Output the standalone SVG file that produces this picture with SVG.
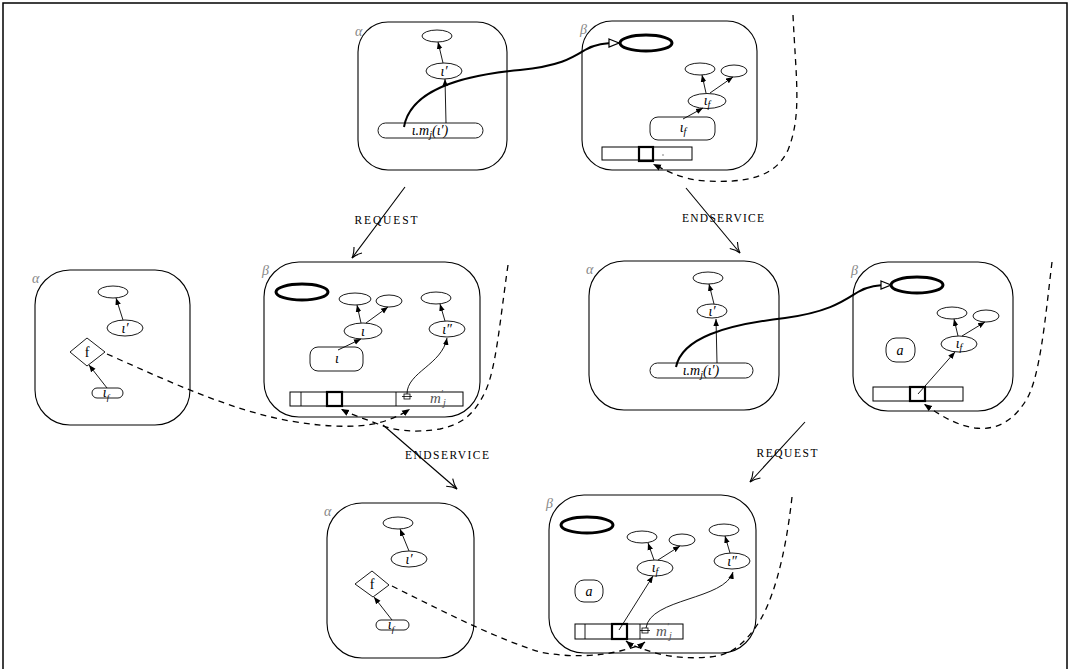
<svg xmlns="http://www.w3.org/2000/svg" width="1070" height="669" viewBox="0 0 1070 669">
<defs>
<style>
.frame{fill:none;stroke:#000;stroke-width:1.5}
.box{fill:none;stroke:#000;stroke-width:1.1}
.el{fill:#fff;stroke:#000;stroke-width:0.9}
.thk{fill:none;stroke:#000;stroke-width:3}
.ar{fill:none;stroke:#000;stroke-width:0.9;marker-end:url(#fa)}
.dash{fill:none;stroke:#000;stroke-width:1.3;stroke-dasharray:6,5;marker-end:url(#fa2)}
.tr{fill:none;stroke:#000;stroke-width:1.1;marker-end:url(#open)}
.hv{fill:none;stroke:#000;stroke-width:2;marker-end:url(#hollow)}
.lab{font-family:"Liberation Serif",serif;font-style:italic;font-size:14px;fill:#888}
.m{font-family:"Liberation Serif",serif;font-style:italic;font-size:14px;fill:#000}
.mg{font-family:"Liberation Serif",serif;font-style:italic;font-size:15px;fill:#555}
.f{font-family:"Liberation Serif",serif;font-size:14px;fill:#000}
.cap{font-family:"Liberation Serif",serif;font-size:11.5px;fill:#000}
.bar{fill:#fff;stroke:#000;stroke-width:1}
.sq{fill:none;stroke:#000;stroke-width:2.2}
</style>
<marker id="fa" viewBox="0 0 10 10" refX="10" refY="5" markerWidth="7" markerHeight="7" markerUnits="userSpaceOnUse" orient="auto"><path d="M0,1 L10,5 L0,9 z" fill="#000"/></marker>
<marker id="fa2" viewBox="0 0 10 10" refX="10" refY="5" markerWidth="8" markerHeight="8" markerUnits="userSpaceOnUse" orient="auto"><path d="M0,1 L10,5 L0,9 z" fill="#000"/></marker>
<marker id="open" viewBox="0 0 12 12" refX="11" refY="6" markerWidth="12" markerHeight="12" markerUnits="userSpaceOnUse" orient="auto"><path d="M1,1 Q6,5 11,6 Q6,7 1,11" fill="none" stroke="#000" stroke-width="1.1"/></marker>
<marker id="hollow" viewBox="0 0 12 10" refX="11" refY="5" markerWidth="12" markerHeight="10" markerUnits="userSpaceOnUse" orient="auto"><path d="M1,1 L11,5 L1,9 z" fill="#fff" stroke="#000" stroke-width="1.2"/></marker>
</defs>
<rect x="0" y="0" width="1070" height="669" fill="#fff"/>
<rect class="frame" x="3" y="3" width="1064" height="700"/>

<g id="alpha1">
<rect class="box" x="358" y="22" width="149" height="148" rx="30"/>
<text class="lab" x="355" y="36">α</text>
<ellipse class="el" cx="437" cy="36" rx="15" ry="6"/>
<ellipse class="el" cx="444" cy="71" rx="18" ry="8"/>
<text class="m" x="444" y="76" text-anchor="middle">ι′</text>
<rect class="el" x="378" y="123" width="105" height="15" rx="7.5"/>
<text class="m" x="430" y="135" text-anchor="middle">ι.m<tspan font-size="10" dy="3">j</tspan><tspan dy="-3">(ι′)</tspan></text>
</g>

<g id="beta1">
<rect class="box" x="582" y="21" width="175" height="149" rx="30"/>
<text class="lab" x="580" y="34">β</text>
<ellipse class="thk" cx="646" cy="43" rx="26" ry="8"/>
<ellipse class="el" cx="700" cy="69" rx="15" ry="6"/>
<ellipse class="el" cx="734" cy="71" rx="13" ry="6"/>
<ellipse class="el" cx="707" cy="101" rx="19" ry="7.5"/>
<text class="m" x="707" y="105" text-anchor="middle">ι<tspan font-size="10" dy="3">f</tspan></text>
<rect class="el" x="650" y="117" width="65" height="23" rx="8"/>
<text class="m" x="683" y="132" text-anchor="middle">ι<tspan font-size="10" dy="3">f</tspan></text>
<rect class="bar" x="602" y="147" width="90" height="13"/>
<rect class="sq" x="639" y="147" width="14" height="14"/>
<circle cx="663" cy="155" r="0.7" fill="#555"/>
</g>

<g id="alpha2">
<rect class="box" x="35" y="270" width="155" height="155" rx="35"/>
<text class="lab" x="32" y="283">α</text>
<ellipse class="el" cx="113" cy="292" rx="15" ry="6"/>
<ellipse class="el" cx="125" cy="328" rx="18" ry="8"/>
<text class="m" x="125" y="333" text-anchor="middle">ι′</text>
<polygon class="el" points="70,352 87,338 105,352 87,366"/>
<text class="f" x="87" y="357" text-anchor="middle">f</text>
<rect class="el" x="92" y="388" width="31" height="10" rx="5"/>
<text class="m" x="106" y="397" text-anchor="middle" font-size="13">ι<tspan font-size="9" dy="3">f</tspan></text>
</g>

<g id="beta2">
<rect class="box" x="264" y="262" width="216" height="155" rx="35"/>
<text class="lab" x="262" y="275">β</text>
<ellipse class="thk" cx="302" cy="292" rx="26" ry="8"/>
<ellipse class="el" cx="355" cy="299" rx="16" ry="6"/>
<ellipse class="el" cx="389" cy="301" rx="13" ry="6"/>
<ellipse class="el" cx="436" cy="298" rx="15" ry="6"/>
<ellipse class="el" cx="363" cy="331" rx="19" ry="8"/>
<text class="m" x="363" y="336" text-anchor="middle">ι</text>
<ellipse class="el" cx="447" cy="329" rx="18" ry="8"/>
<text class="m" x="447" y="334" text-anchor="middle">ι″</text>
<rect class="el" x="310" y="347" width="53" height="24" rx="8"/>
<text class="m" x="337" y="363" text-anchor="middle">ι</text>
<rect class="bar" x="290" y="392" width="173" height="14"/>
<line x1="301" y1="392" x2="301" y2="406" stroke="#000" stroke-width="0.9"/>
<line x1="396" y1="392" x2="396" y2="406" stroke="#000" stroke-width="0.9"/>
<rect class="sq" x="327" y="392" width="15" height="14"/>
<rect x="404" y="394" width="6" height="5" fill="none" stroke="#000" stroke-width="0.8"/>
<line x1="402" y1="396.5" x2="412" y2="396.5" stroke="#000" stroke-width="0.8"/>
<text class="mg" x="430" y="403">m<tspan font-size="10" dy="-6">′</tspan><tspan font-size="10" dy="9">j</tspan></text>
</g>

<g id="alpha3">
<rect class="box" x="589" y="261" width="190" height="149" rx="35"/>
<text class="lab" x="586" y="274">α</text>
<ellipse class="el" cx="708" cy="278" rx="15" ry="6"/>
<ellipse class="el" cx="712" cy="311" rx="15" ry="7"/>
<text class="m" x="712" y="316" text-anchor="middle">ι′</text>
<rect class="el" x="650" y="363" width="103" height="15" rx="7.5"/>
<text class="m" x="701" y="375" text-anchor="middle">ι.m<tspan font-size="10" dy="3">j</tspan><tspan dy="-3">(ι′)</tspan></text>
</g>

<g id="beta3">
<rect class="box" x="853" y="262" width="160" height="149" rx="35"/>
<text class="lab" x="851" y="275">β</text>
<ellipse class="thk" cx="917" cy="285" rx="26" ry="8"/>
<ellipse class="el" cx="952" cy="313" rx="15" ry="6"/>
<ellipse class="el" cx="986" cy="316" rx="13" ry="6"/>
<ellipse class="el" cx="959" cy="344" rx="18" ry="8"/>
<text class="m" x="959" y="348" text-anchor="middle">ι<tspan font-size="10" dy="3">f</tspan></text>
<rect class="el" x="886" y="338" width="29" height="24" rx="10"/>
<text class="m" x="900" y="355" text-anchor="middle">a</text>
<rect class="bar" x="873" y="387" width="90" height="14"/>
<rect class="sq" x="910" y="387" width="15" height="14"/>
</g>

<g id="alpha4">
<rect class="box" x="327" y="503" width="147" height="155" rx="35"/>
<text class="lab" x="324" y="516">α</text>
<ellipse class="el" cx="398" cy="523" rx="15" ry="6"/>
<ellipse class="el" cx="409" cy="559" rx="18" ry="8"/>
<text class="m" x="409" y="564" text-anchor="middle">ι′</text>
<polygon class="el" points="355,584 372,571 389,585 373,597"/>
<text class="f" x="372" y="589" text-anchor="middle">f</text>
<rect class="el" x="376" y="620" width="33" height="10" rx="5"/>
<text class="m" x="391" y="629" text-anchor="middle" font-size="13">ι<tspan font-size="9" dy="3">f</tspan></text>
</g>

<g id="beta4">
<rect class="box" x="549" y="495" width="207" height="158" rx="35"/>
<text class="lab" x="546" y="508">β</text>
<ellipse class="thk" cx="587" cy="525" rx="26" ry="8"/>
<ellipse class="el" cx="642" cy="537" rx="15" ry="6"/>
<ellipse class="el" cx="682" cy="540" rx="13" ry="6"/>
<ellipse class="el" cx="724" cy="530" rx="15" ry="6"/>
<ellipse class="el" cx="655" cy="568" rx="18" ry="8"/>
<text class="m" x="655" y="572" text-anchor="middle">ι<tspan font-size="10" dy="3">f</tspan></text>
<ellipse class="el" cx="732" cy="561" rx="18" ry="8"/>
<text class="m" x="732" y="566" text-anchor="middle">ι″</text>
<rect class="el" x="575" y="580" width="28" height="22" rx="9"/>
<text class="m" x="589" y="596" text-anchor="middle">a</text>
<rect class="bar" x="575" y="624" width="108" height="15"/>
<line x1="585" y1="624" x2="585" y2="639" stroke="#000" stroke-width="0.9"/>
<line x1="640" y1="624" x2="640" y2="639" stroke="#000" stroke-width="0.9"/>
<rect class="sq" x="612" y="624" width="15" height="15"/>
<rect x="642" y="628" width="6" height="5" fill="none" stroke="#000" stroke-width="0.8"/>
<line x1="640" y1="630.5" x2="650" y2="630.5" stroke="#000" stroke-width="0.8"/>
<text class="mg" x="656" y="636">m<tspan font-size="10" dy="-6">′</tspan><tspan font-size="10" dy="9">j</tspan></text>
</g>

<g id="connectors">
<line class="ar" x1="443" y1="63" x2="438" y2="42"/>
<line class="ar" x1="446" y1="123" x2="445" y2="79"/>
<line class="ar" x1="706" y1="93" x2="702" y2="75"/>
<line class="ar" x1="710" y1="93" x2="733" y2="77"/>
<line class="ar" x1="683" y1="119" x2="703" y2="108"/>
<line class="ar" x1="123" y1="320" x2="116" y2="298"/>
<line class="ar" x1="107" y1="388" x2="89" y2="365"/>
<line class="ar" x1="361" y1="323" x2="357" y2="305"/>
<line class="ar" x1="366" y1="323" x2="388" y2="307"/>
<line class="ar" x1="445" y1="321" x2="440" y2="304"/>
<line class="ar" x1="338" y1="350" x2="361" y2="339"/>
<path class="ar" d="M407,394 C407,372 442,365 447,338"/>
<line class="ar" x1="714" y1="304" x2="709" y2="284"/>
<line class="ar" x1="717" y1="363" x2="716" y2="319"/>
<line class="ar" x1="958" y1="336" x2="954" y2="319"/>
<line class="ar" x1="962" y1="336" x2="985" y2="322"/>
<line class="ar" x1="918" y1="394" x2="955" y2="352"/>
<line class="ar" x1="409" y1="551" x2="400" y2="529"/>
<line class="ar" x1="392" y1="620" x2="374" y2="597"/>
<line class="ar" x1="654" y1="560" x2="648" y2="543"/>
<line class="ar" x1="658" y1="560" x2="680" y2="546"/>
<line class="ar" x1="730" y1="553" x2="725" y2="536"/>
<line class="ar" x1="619" y1="630" x2="653" y2="576"/>
<path class="ar" d="M646,628 C650,598 725,600 733,572"/>
<path class="hv" d="M404,127 C410,92 455,76 520,70 C560,66 572,58 585,50 C595,44 605,43 619,43"/>
<path class="hv" d="M676,367 C682,338 725,325 785,318 C830,312 845,300 858,292 C868,286 878,285 891,285"/>
<path class="dash" d="M793,15 C796,80 802,115 788,150 C775,178 745,183 705,181 C680,179 665,170 653,164"/>
<path class="dash" d="M107,354 C170,382 230,410 290,421 C330,428 365,428 385,421 C397,417 404,413 410,409"/>
<path class="dash" d="M508,265 C500,320 496,370 485,392 C474,415 462,424 440,429 C415,433 395,431 378,424 C362,418 350,414 341,409"/>
<path class="dash" d="M1052,262 C1045,320 1040,380 1025,402 C1010,425 992,430 975,428 C955,425 940,415 924,404"/>
<path class="dash" d="M392,586 C450,615 500,640 540,652 C570,658 600,656 620,651 C632,648 640,646 645,642"/>
<path class="dash" d="M792,497 C785,560 772,605 755,628 C742,646 730,655 710,657 C690,659 668,657 652,652 C640,648 632,646 626,641"/>
<line class="tr" x1="405" y1="187" x2="352" y2="258"/>
<line class="tr" x1="686" y1="188" x2="740" y2="253"/>
<line class="tr" x1="383" y1="425" x2="457" y2="489"/>
<line class="tr" x1="805" y1="422" x2="750" y2="482"/>
</g>

<g id="labels">
<text class="cap" x="386" y="224" text-anchor="middle" textLength="63" lengthAdjust="spacing">REQUEST</text>
<text class="cap" x="723" y="222" text-anchor="middle" textLength="82" lengthAdjust="spacing">ENDSERVICE</text>
<text class="cap" x="447" y="459" text-anchor="middle" textLength="84" lengthAdjust="spacing">ENDSERVICE</text>
<text class="cap" x="787" y="457" text-anchor="middle" textLength="61" lengthAdjust="spacing">REQUEST</text>
</g>
</svg>
